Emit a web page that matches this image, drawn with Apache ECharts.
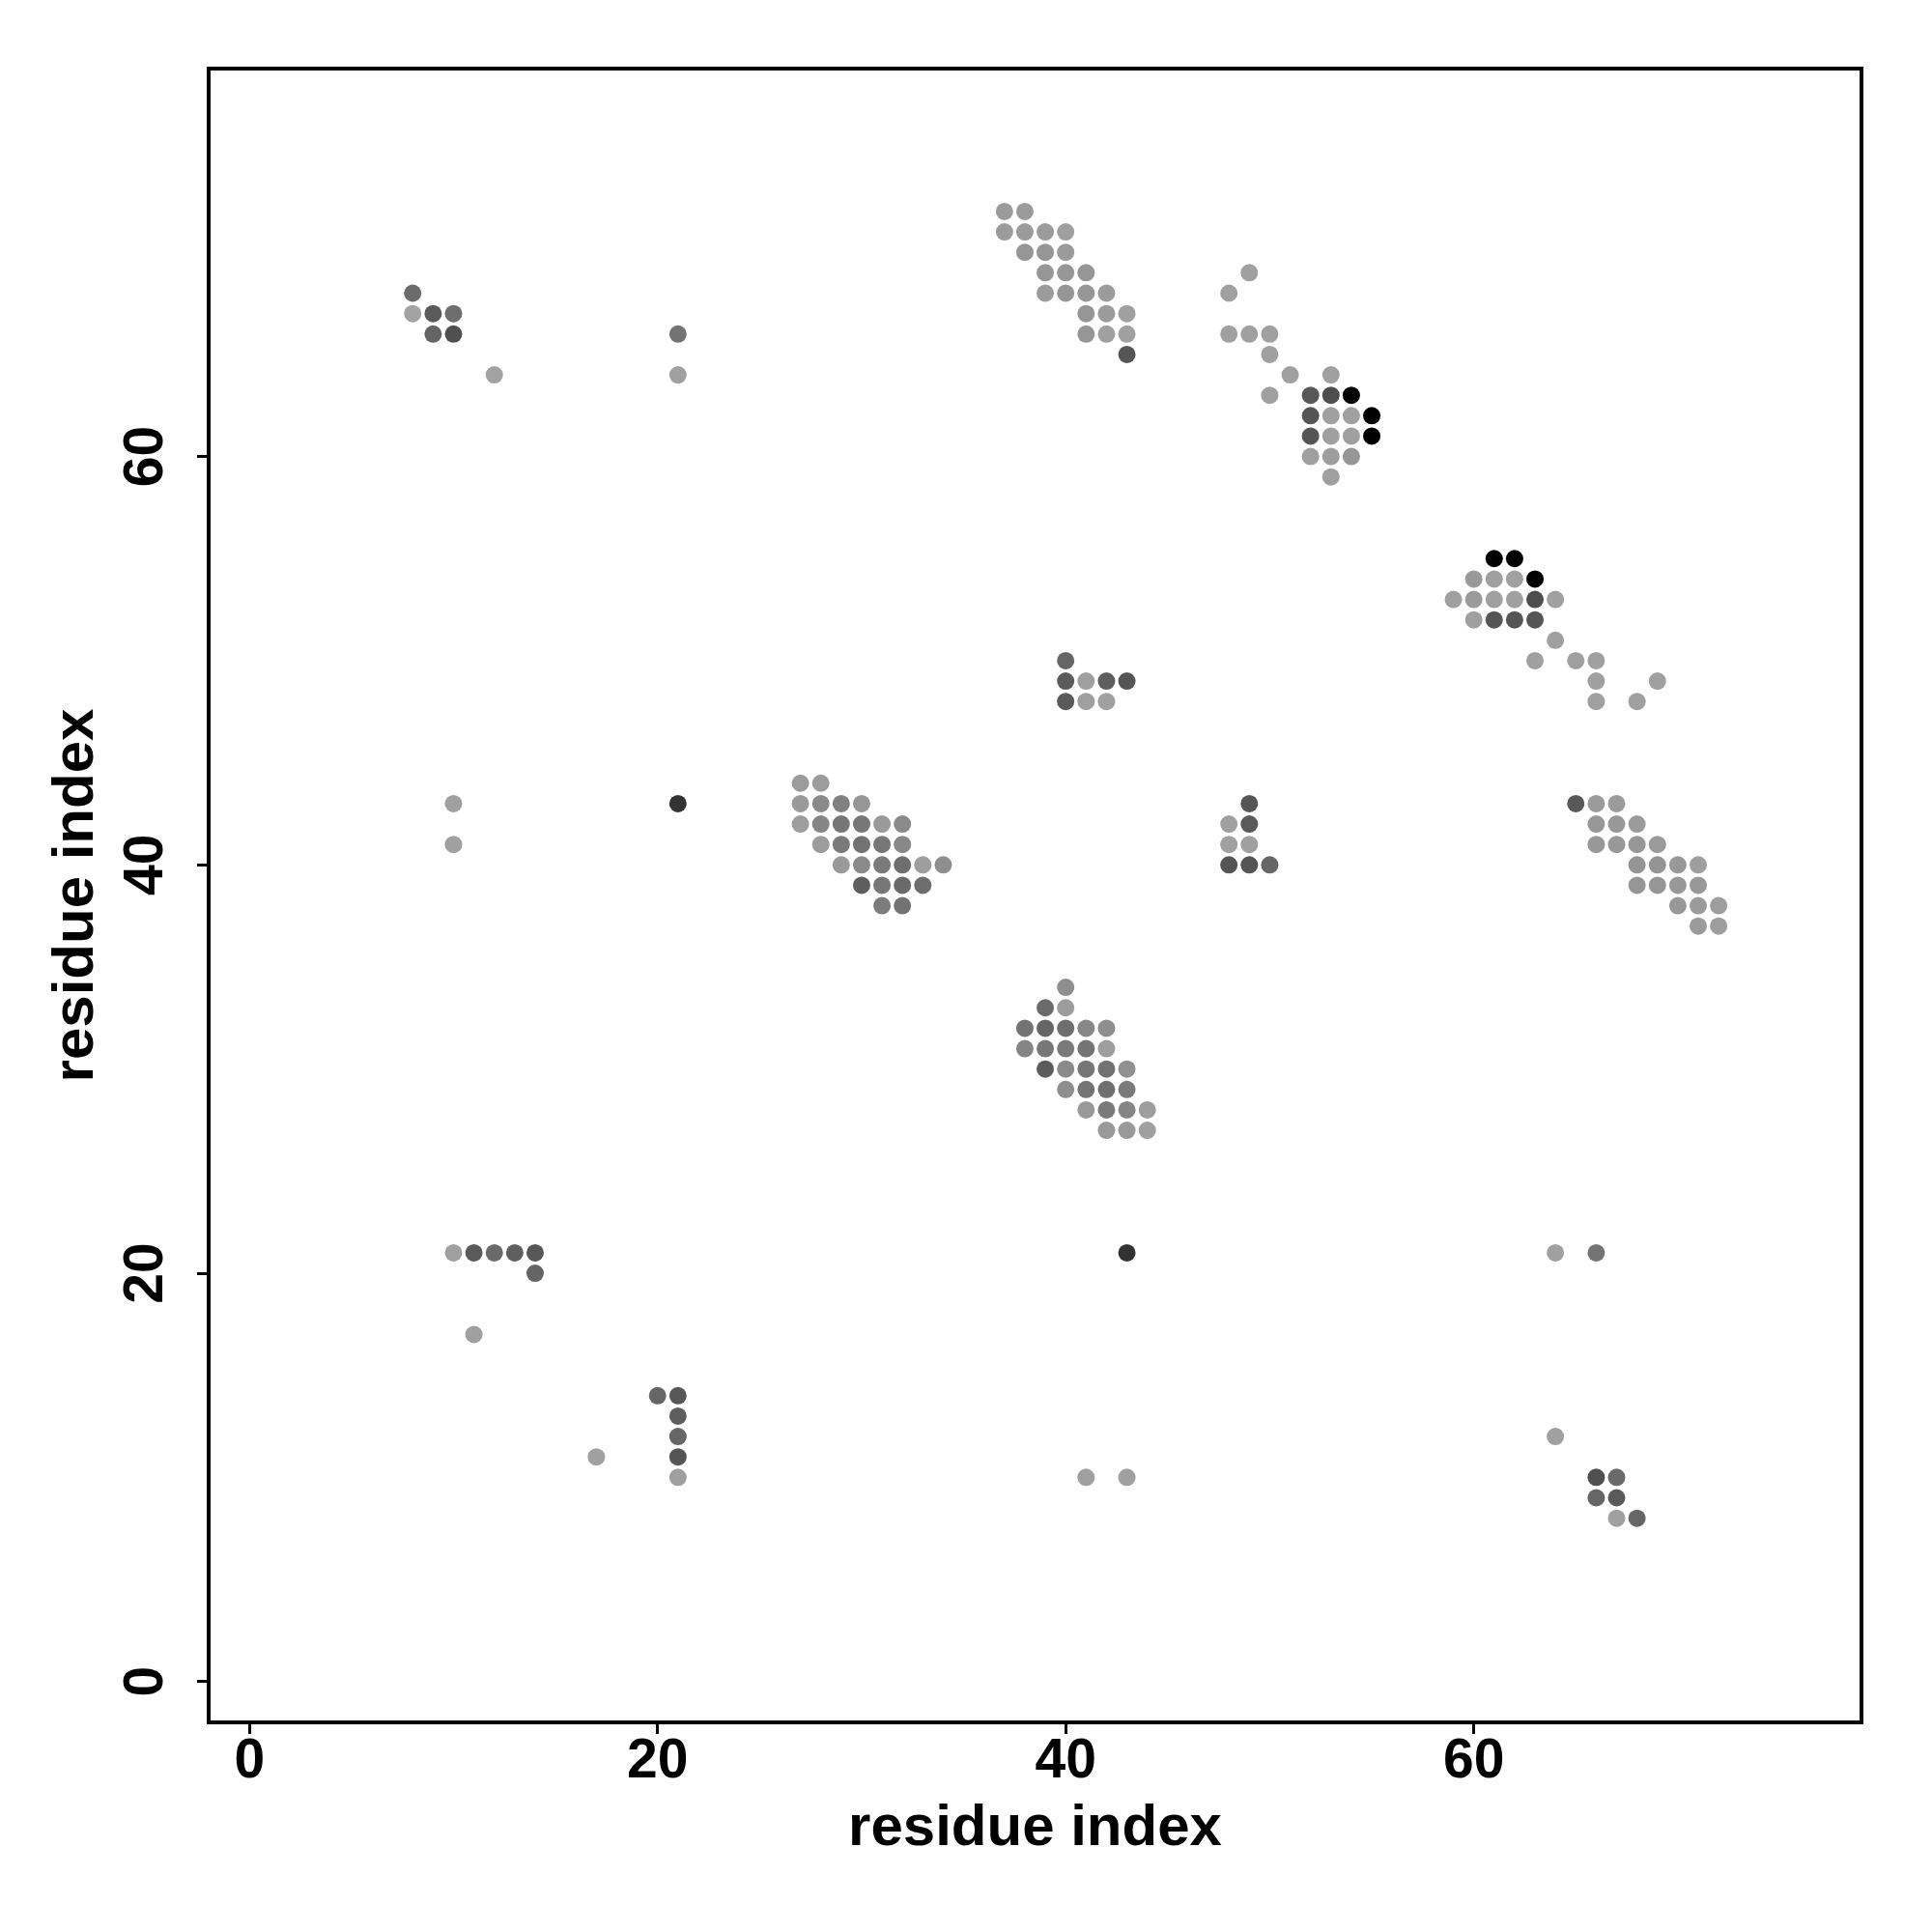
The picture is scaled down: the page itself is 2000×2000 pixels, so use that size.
<!DOCTYPE html>
<html>
<head>
<meta charset="utf-8">
<script src="https://cdn.jsdelivr.net/npm/echarts@6/dist/echarts.min.js"></script>
<style>html,body{margin:0;padding:0;background:#fff;}#chart{width:2000px;height:2000px;}</style>
</head>
<body>
<div id="chart"></div>
<script>
// Each point: [residue i, residue j, grey level (0 = black ... 160 = light grey)]
const topLeftContacts = [
  [8,68,107],[8,67,163],[9,67,90],[10,67,110],[9,66,100],[10,66,80],[12,64,163],
  [21,66,115],[21,64,160]
];
const strandA = [
  [37,72,155],[38,72,155],
  [37,71,155],[38,71,155],[39,71,155],[40,71,160],
  [38,70,150],[39,70,150],[40,70,155],
  [39,69,150],[40,69,150],[41,69,150],
  [39,68,155],[40,68,150],[41,68,150],[42,68,155],
  [41,67,150],[42,67,155],[43,67,160],
  [41,66,150],[42,66,160],[43,66,160],
  [43,65,85]
];
const strandB = [
  [49,69,160],[48,68,160],[48,66,160],[49,66,160],[50,66,160],[50,65,160],[51,64,160],[53,64,160],
  [50,63,160],[52,63,88],[53,63,78],[54,63,0],
  [52,62,85],[53,62,160],[54,62,160],[55,62,0],
  [52,61,85],[53,61,160],[54,61,160],[55,61,0],
  [52,60,160],[53,60,158],[54,60,150],
  [53,59,160]
];
const strandC = [
  [61,55,0],[62,55,0],
  [60,54,153],[61,54,160],[62,54,160],[63,54,0],
  [59,53,160],[60,53,155],[61,53,160],[62,53,160],[63,53,78],[64,53,160],
  [60,52,160],[61,52,85],[62,52,85],[63,52,85],
  [64,51,160],
  [63,50,160],[65,50,160],[66,50,160],
  [66,49,160],[69,49,160],
  [66,48,160],[68,48,160]
];
const patchD = [
  [40,50,102],[40,49,90],[41,49,160],[42,49,94],[43,49,85],[40,48,90],[41,48,160],[42,48,160]
];
const patchE = [
  [49,43,85],[48,42,160],[49,42,90],[48,41,160],[49,41,160],[48,40,85],[49,40,85],[50,40,102]
];
const strandF = [
  [27,44,156],[28,44,156],
  [27,43,154],[28,43,138],[29,43,128],[30,43,150],
  [27,42,158],[28,42,133],[29,42,118],[30,42,119],[31,42,154],[32,42,138],
  [28,41,156],[29,41,122],[30,41,114],[31,41,119],[32,41,136],
  [29,40,153],[30,40,138],[31,40,122],[32,40,110],[33,40,158],[34,40,142],
  [30,39,94],[31,39,119],[32,39,106],[33,39,110],
  [31,38,124],[32,38,114]
];
const strandG = [
  [65,43,88],[66,43,155],[67,43,155],
  [66,42,152],[67,42,152],[68,42,155],
  [66,41,152],[67,41,152],[68,41,150],[69,41,155],
  [68,40,148],[69,40,148],[70,40,152],[71,40,158],
  [68,39,150],[69,39,150],[70,39,152],[71,39,152],
  [70,38,152],[71,38,155],[72,38,158],
  [71,37,155],[72,37,158]
];
const strandH = [
  [40,34,142],
  [39,33,107],[40,33,156],
  [38,32,115],[39,32,102],[40,32,110],[41,32,136],[42,32,142],
  [38,31,133],[39,31,119],[40,31,122],[41,31,116],[42,31,158],
  [39,30,92],[40,30,138],[41,30,118],[42,30,114],[43,30,144],
  [40,29,142],[41,29,116],[42,29,111],[43,29,122],
  [41,28,153],[42,28,122],[43,28,133],[44,28,158],
  [42,27,153],[43,27,153],[44,27,160]
];
const scattered = [
  [10,43,160],[10,41,160],[21,43,51],
  [10,21,160],[11,21,90],[12,21,106],[13,21,95],[14,21,87],[14,20,100],[11,17,160],
  [43,21,51],[64,21,160],[66,21,116],
  [20,14,102],[21,14,87],[21,13,94],[21,12,102],[21,11,85],[21,10,160],[17,11,160],
  [41,10,160],[43,10,160],
  [64,12,160],[66,10,80],[67,10,106],[66,9,102],[67,9,90],[67,8,160],[68,8,102]
];
const tickValues = [0, 20, 40, 60];
const axisTitle = 'residue index';

const allPoints = [].concat(topLeftContacts, strandA, strandB, strandC, patchD, patchE,
                            strandF, strandG, strandH, scattered);

const chart = echarts.init(document.getElementById('chart'), null, {renderer: 'canvas'});
const font = '"Liberation Sans", Arial, Helvetica, sans-serif';
function axisCommon() {
  return {
    type: 'value', min: -2, max: 79,
    name: axisTitle, nameLocation: 'middle',
    nameTextStyle: {fontFamily: font, fontWeight: 'bold', fontSize: 60, color: '#000'},
    axisLine: {show: false, onZero: false},
    splitLine: {show: false},
    axisTick: {show: true, length: 12, customValues: tickValues, lineStyle: {color: '#000', width: 3}},
    axisLabel: {customValues: tickValues, fontFamily: font, fontWeight: 'bold', fontSize: 57, color: '#000'}
  };
}
const xAxis = axisCommon();
xAxis.nameGap = 80;
xAxis.axisLabel.margin = 13;
const yAxis = axisCommon();
yAxis.nameGap = 107;
yAxis.axisLabel.rotate = 90;
yAxis.axisLabel.margin = 35;

chart.setOption({
  animation: false,
  backgroundColor: '#fff',
  grid: {left: 216, right: 73, top: 71, bottom: 217, show: true, borderColor: '#000', borderWidth: 4, backgroundColor: 'transparent'},
  xAxis: xAxis,
  yAxis: yAxis,
  series: [{
    type: 'scatter',
    symbol: 'circle',
    symbolSize: 18,
    data: allPoints,
    itemStyle: {
      opacity: 1,
      color: function (p) { const g = p.data[2]; return 'rgb(' + g + ',' + g + ',' + g + ')'; }
    }
  }]
});
</script>
</body>
</html>
